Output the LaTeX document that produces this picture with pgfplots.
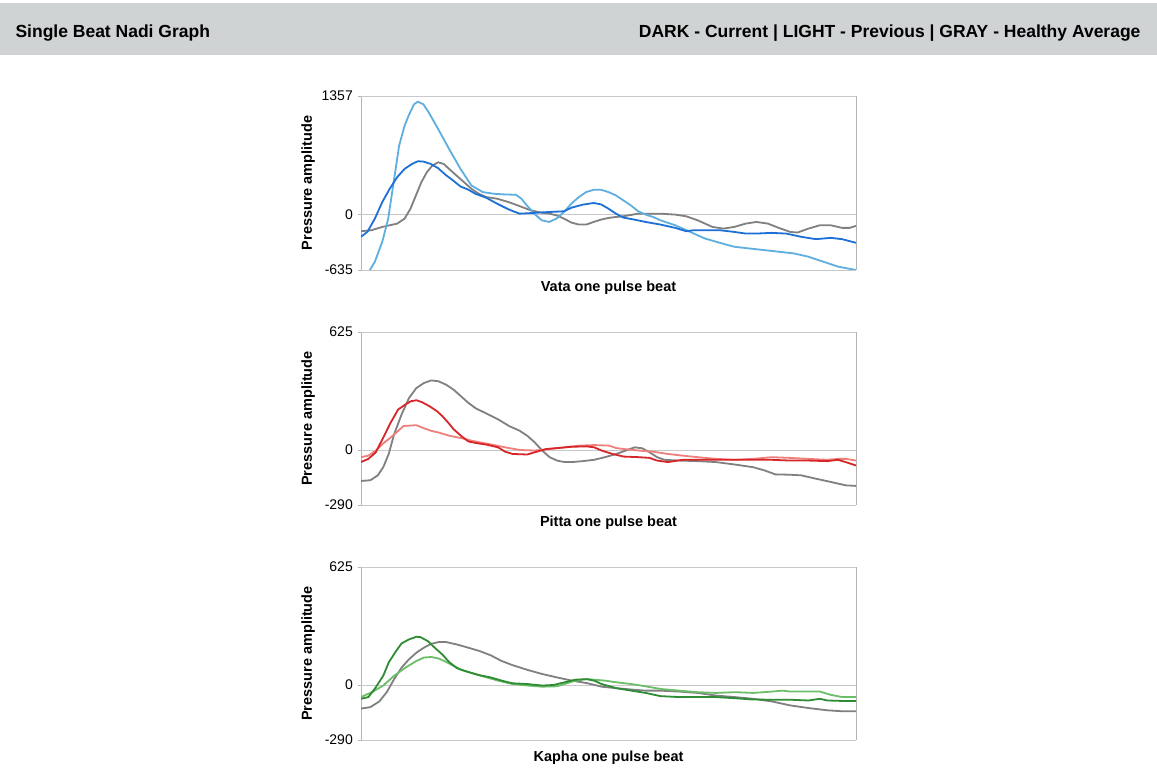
\documentclass[border=0pt]{standalone}
\usepackage{pgfplots}
\pgfplotsset{compat=1.18}
\usepackage{fontspec}
\setmainfont{Liberation Sans}
\definecolor{band}{RGB}{207,211,212}
\definecolor{vdark}{RGB}{28,112,214}
\definecolor{vlight}{RGB}{94,174,224}
\definecolor{hgray}{RGB}{128,128,128}
\definecolor{rdark}{RGB}{214,38,40}
\definecolor{rlight}{RGB}{238,128,124}
\definecolor{gdark}{RGB}{46,140,52}
\definecolor{glight}{RGB}{108,190,105}
\definecolor{gridc}{RGB}{200,200,200}
\definecolor{edgec}{RGB}{180,180,180}
\pgfplotsset{
  nadi/.style={
    scale only axis, width=495pt, height=174pt,
    xmin=0, xmax=100,
    axis line style={draw=none},
    xtick={0,100}, xticklabels={}, xmajorgrids,
    x grid style={edgec, line width=0.8pt},
    xtick style={draw=none},
    ymajorgrids, y grid style={gridc, line width=0.8pt},
    ytick pos=left, tick align=outside, major tick length=3pt,
    ytick style={edgec, line width=0.8pt},
    /pgf/number format/assume math mode=true,
    /pgf/number format/1000 sep={},
    yticklabel style={font=\fontsize{14}{16}\selectfont, inner sep=0pt, xshift=-5pt},
    xlabel style={font=\fontsize{14.5}{17}\selectfont\bfseries, at={(axis description cs:0.5,-0.1264)}, anchor=base},
    ylabel style={font=\fontsize{14.5}{17}\selectfont\bfseries, at={(axis description cs:-0.107,0.5)}, anchor=center},
    ylabel={Pressure amplitude},
    every axis plot/.append style={line width=1.8pt, line join=round, no markers},
  }
}
\begin{document}
\begin{tikzpicture}[x=1pt,y=1pt]
\fill[white] (0,0) rectangle (1157,767);
\fill[band] (0,712) rectangle (1157,764);
\node[anchor=west, font=\fontsize{17.5}{21}\selectfont\bfseries] at (12,734) {Single Beat Nadi Graph};
\node[anchor=east, font=\fontsize{17.5}{21}\selectfont\bfseries] at (1144,734) {DARK - Current | LIGHT - Previous | GRAY - Healthy Average};

% ---------------- Vata ----------------
\begin{axis}[nadi, at={(361pt,497pt)}, anchor=south west,
  ymin=-635, ymax=1357, ytick={-635,0,1357}, height=174pt,
  xlabel={Vata one pulse beat}]
\addplot[hgray] coordinates {(0,-191)(2.1,-180)(4.3,-142)(5.8,-123)(7.3,-104)(8.8,-47)(10.0,67)(11.1,219)(12.2,371)(13.3,484)(14.4,560)(15.6,598)(16.7,579)(17.8,522)(19.3,446)(20.8,371)(22.3,295)(23.8,238)(25.3,200)(27.5,181)(29.8,143)(32.0,97)(34.3,48)(36.5,21)(38.0,10)(39.5,-9)(41.0,-47)(42.5,-92)(44.0,-115)(45.5,-115)(47.0,-85)(48.5,-58)(50.0,-39)(51.5,-28)(53.0,-20)(56.0,10)(59.0,10)(60.5,10)(63.5,-1)(65.7,-20)(68.0,-66)(71.0,-142)(73.2,-161)(75.4,-142)(77.7,-104)(79.9,-85)(82.2,-104)(84.4,-153)(86.7,-199)(88.2,-206)(90.4,-161)(92.7,-123)(94.9,-123)(97.2,-153)(98.7,-153)(100,-130)};
\addplot[vlight] coordinates {(0,-650)(1.7,-645)(2.8,-540)(4.3,-312)(5.5,-47)(6.6,371)(7.7,788)(8.8,1016)(9.6,1129)(10.7,1262)(11.5,1292)(12.6,1262)(13.7,1167)(15.6,978)(17.8,750)(20.1,522)(22.3,333)(24.6,257)(26.8,238)(29.0,230)(31.3,226)(32.4,181)(33.5,105)(35.0,10)(36.5,-66)(38.0,-85)(39.5,-47)(41.0,29)(42.5,124)(44.0,200)(45.5,257)(47.0,283)(48.5,283)(50.0,257)(51.5,219)(53.0,162)(54.5,105)(56.0,37)(57.5,-1)(59.0,-28)(60.5,-66)(63.5,-123)(66.5,-199)(69.5,-275)(72.5,-324)(75.4,-369)(78.4,-388)(81.4,-407)(84.4,-426)(87.4,-445)(90.4,-483)(93.4,-540)(96.4,-597)(100,-635)};
\addplot[vdark] coordinates {(0,-255)(1.3,-198)(2.8,-47)(4.3,143)(5.8,295)(7.3,427)(8.8,522)(10.3,579)(11.5,610)(12.6,606)(14.1,579)(15.6,530)(17.1,454)(18.6,390)(20.1,321)(21.6,287)(23.1,238)(25.3,192)(27.5,124)(29.8,59)(32.0,10)(33.5,14)(38.0,29)(41.0,37)(42.5,78)(44.8,113)(47.0,132)(48.5,116)(50.0,67)(51.5,10)(53.0,-35)(55.2,-58)(57.5,-85)(60.5,-115)(63.5,-153)(65.7,-191)(67.2,-180)(69.5,-180)(72.5,-180)(75.4,-199)(77.7,-218)(79.9,-218)(82.9,-210)(85.9,-218)(88.9,-255)(91.9,-282)(94.9,-267)(97.2,-282)(100,-324)};
\end{axis}

% ---------------- Pitta ----------------
\begin{axis}[nadi, at={(361pt,262pt)}, anchor=south west,
  ymin=-290, ymax=625, ytick={-290,0,625}, height=173pt,
  xlabel={Pitta one pulse beat}]
\addplot[hgray] coordinates {(0,-163)(1.9,-159)(3.4,-133)(4.5,-90)(5.6,-20)(6.7,85)(8.2,189)(9.7,276)(11.2,329)(12.7,355)(14.2,369)(15.7,364)(17.2,346)(18.7,320)(20.2,285)(21.7,250)(23.2,221)(25.4,193)(27.7,163)(29.9,128)(32.1,102)(33.6,76)(35.1,41)(36.6,-2)(38.1,-37)(39.6,-55)(41.1,-63)(42.6,-63)(44.8,-58)(47.1,-51)(49.3,-37)(51.6,-20)(53.8,1)(55.3,15)(56.8,10)(58.3,-11)(59.8,-37)(61.3,-51)(64.3,-55)(68.0,-58)(71.7,-63)(75.5,-76)(79.2,-90)(81.5,-107)(83.7,-128)(86.7,-130)(88.9,-133)(91.9,-151)(94.9,-168)(97.9,-186)(100,-189)};
\addplot[rlight] coordinates {(0,-37)(1.5,-29)(3.0,-2)(4.5,36)(6.0,67)(7.5,102)(8.6,128)(11.2,132)(12.7,116)(14.2,102)(15.7,93)(17.9,76)(20.2,64)(22.4,50)(24.7,38)(26.9,27)(29.1,15)(32.1,1)(35.1,-2)(38.1,6)(41.1,15)(44.1,24)(47.1,27)(50.1,24)(51.6,11)(53.1,6)(56.1,-2)(59.0,-8)(62.0,-20)(65.0,-29)(68.0,-37)(71.7,-46)(75.5,-51)(79.2,-46)(83.0,-37)(86.7,-41)(90.4,-46)(94.2,-51)(96.4,-46)(97.9,-46)(100,-55)};
\addplot[rdark] coordinates {(0,-63)(1.5,-46)(3.0,-11)(4.5,67)(6.0,146)(7.5,215)(9.0,242)(10.1,259)(11.2,264)(12.3,254)(13.8,233)(15.3,207)(16.4,181)(17.6,146)(18.7,111)(20.2,76)(21.7,46)(23.2,38)(25.4,29)(27.7,15)(29.1,-8)(30.6,-20)(33.6,-23)(35.1,-11)(37.4,6)(39.6,11)(42.6,18)(45.6,20)(47.1,15)(48.6,-2)(50.8,-20)(53.1,-34)(56.1,-37)(58.3,-41)(59.8,-55)(62.0,-63)(65.0,-51)(68.0,-51)(71.7,-51)(75.5,-51)(79.2,-51)(83.0,-51)(86.7,-55)(90.4,-55)(94.2,-58)(96.4,-51)(97.9,-63)(100,-81)};
\end{axis}

% ---------------- Kapha ----------------
\begin{axis}[nadi, at={(361pt,27pt)}, anchor=south west,
  ymin=-290, ymax=625, ytick={-290,0,625}, height=173pt,
  xlabel={Kapha one pulse beat}]
\addplot[hgray] coordinates {(0,-124)(1.9,-116)(3.7,-86)(5.2,-37)(6.7,32)(8.2,93)(9.7,137)(11.2,172)(12.7,198)(14.2,219)(15.7,228)(17.2,228)(19.4,215)(21.7,198)(23.9,181)(26.2,158)(28.4,128)(30.6,106)(33.6,81)(36.6,59)(39.6,41)(42.6,24)(45.6,11)(48.6,-8)(51.6,-16)(54.6,-23)(57.5,-29)(60.5,-29)(64.3,-34)(68.0,-41)(71.7,-55)(75.5,-63)(79.2,-72)(83.0,-86)(86.7,-107)(90.4,-121)(94.2,-133)(97.2,-138)(100,-138)};
\addplot[glight] coordinates {(0,-63)(2.2,-37)(4.5,-2)(6.7,50)(9.0,93)(11.2,128)(12.7,146)(14.2,149)(15.7,141)(17.2,123)(18.7,102)(20.2,81)(22.4,64)(24.7,46)(27.7,24)(30.6,6)(33.6,-2)(36.6,-8)(39.6,-6)(41.1,6)(43.3,24)(45.6,32)(47.1,29)(49.3,24)(51.6,15)(54.6,6)(57.5,-6)(60.5,-20)(64.3,-29)(68.0,-37)(71.7,-41)(75.5,-37)(79.2,-41)(83.0,-34)(85.2,-29)(86.7,-34)(90.4,-34)(92.7,-34)(94.9,-51)(97.2,-63)(100,-63)};
\addplot[gdark] coordinates {(0,-72)(1.5,-63)(3.0,-11)(4.5,50)(5.6,120)(7.1,181)(8.2,221)(9.7,242)(11.2,256)(12.0,254)(13.5,233)(14.9,198)(16.4,163)(17.9,120)(19.4,90)(20.9,76)(22.4,64)(23.9,53)(26.2,41)(28.4,24)(30.6,10)(33.6,6)(36.6,-2)(38.9,1)(41.1,15)(43.3,29)(45.6,32)(47.1,24)(48.6,6)(51.6,-16)(54.6,-29)(57.5,-41)(60.5,-58)(64.3,-63)(68.0,-63)(71.7,-63)(75.5,-69)(79.2,-76)(83.0,-77)(86.7,-77)(90.4,-81)(92.7,-72)(94.2,-81)(97.9,-84)(100,-84)};
\end{axis}
\end{tikzpicture}
\end{document}
